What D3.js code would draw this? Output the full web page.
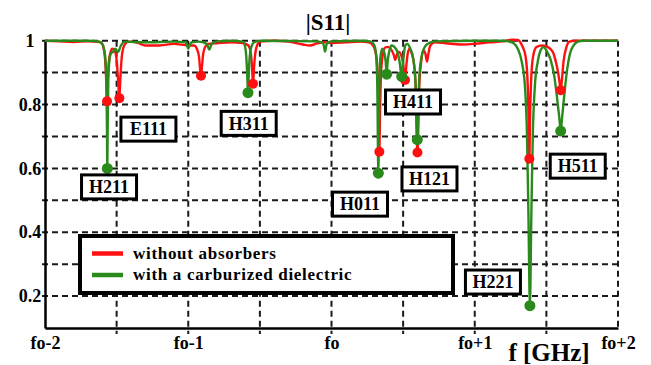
<!DOCTYPE html>
<html><head><meta charset="utf-8">
<script src="https://cdn.jsdelivr.net/npm/d3@7"></script>
<style>
html,body{margin:0;padding:0;background:#fff;}
svg{display:block;}
text{font-family:"Liberation Serif","Times New Roman",serif;font-weight:bold;fill:#000;}
</style></head>
<body>
<svg id="chart" width="651" height="365"></svg>
<script>
// ---- data ----
const xTickValues = [-2, -1, 0, 1, 2];
const xTickLabels = ["fo-2", "fo-1", "fo", "fo+1", "fo+2"];
const xGridValues = [-1.5, -1, -0.5, 0, 0.5, 1, 1.5, 2];
const yTickValues = [1, 0.8, 0.6, 0.4, 0.2];
const yTickLabels = ["1", "0.8", "0.6", "0.4", "0.2"];
const yGridValues = [1, 0.9, 0.8, 0.7, 0.6, 0.5, 0.4, 0.3, 0.2];

const redF = [-2.00,-1.90,-1.80,-1.70,-1.62,-1.60,-1.59,-1.58,-1.573,-1.567,-1.561,-1.555,-1.545,-1.530,-1.510,-1.498,-1.490,-1.481,-1.473,-1.465,-1.455,-1.44,-1.42,-1.35,-1.30,-1.20,-1.10,-1.00,-0.96,-0.94,-0.925,-0.917,-0.911,-0.905,-0.897,-0.885,-0.86,-0.80,-0.70,-0.62,-0.58,-0.565,-0.555,-0.548,-0.541,-0.532,-0.52,-0.50,-0.40,-0.30,-0.20,-0.15,-0.10,-0.05,0.00,0.10,0.20,0.26,0.29,0.31,0.322,0.329,0.334,0.339,0.346,0.36,0.38,0.40,0.42,0.435,0.445,0.455,0.47,0.49,0.502,0.513,0.522,0.532,0.545,0.56,0.575,0.588,0.600,0.612,0.625,0.64,0.655,0.667,0.675,0.69,0.72,0.80,0.90,1.00,1.10,1.20,1.26,1.30,1.33,1.355,1.368,1.376,1.381,1.386,1.394,1.407,1.43,1.47,1.51,1.545,1.568,1.582,1.592,1.600,1.608,1.62,1.64,1.66,1.70,2.00];
const redS = [1.000,0.998,0.996,0.998,0.996,0.990,0.975,0.940,0.880,0.810,0.880,0.930,0.960,0.975,0.965,0.930,0.880,0.820,0.890,0.945,0.975,0.990,0.997,0.993,0.985,0.985,0.990,0.985,0.985,0.975,0.950,0.910,0.890,0.915,0.955,0.978,0.990,0.992,0.995,0.993,0.985,0.965,0.920,0.865,0.915,0.960,0.985,0.997,1.000,0.997,0.988,0.985,0.992,0.995,0.993,0.995,0.997,0.995,0.985,0.960,0.900,0.780,0.652,0.780,0.900,0.960,0.980,0.980,0.970,0.955,0.940,0.955,0.965,0.950,0.920,0.877,0.920,0.960,0.975,0.960,0.930,0.850,0.650,0.850,0.930,0.970,0.960,0.935,0.955,0.985,0.995,0.992,0.988,0.990,0.995,0.998,1.003,1.002,0.985,0.950,0.880,0.760,0.630,0.760,0.880,0.950,0.980,0.985,0.980,0.965,0.930,0.900,0.870,0.845,0.875,0.935,0.980,0.997,1.000,1.000];

const greenF = [-2.00,-1.70,-1.62,-1.595,-1.58,-1.572,-1.568,-1.565,-1.562,-1.558,-1.55,-1.54,-1.525,-1.51,-1.49,-1.47,-1.44,-1.30,-1.10,-1.02,-1.008,-1.000,-0.992,-0.975,-0.93,-0.87,-0.853,-0.836,-0.80,-0.70,-0.62,-0.605,-0.595,-0.589,-0.583,-0.577,-0.571,-0.56,-0.54,-0.50,-0.10,-0.06,-0.052,-0.045,-0.038,-0.03,0.00,0.20,0.27,0.30,0.312,0.320,0.327,0.334,0.342,0.355,0.370,0.378,0.385,0.392,0.405,0.42,0.44,0.46,0.475,0.490,0.500,0.515,0.53,0.55,0.57,0.585,0.599,0.612,0.627,0.645,0.67,0.72,1.00,1.20,1.26,1.30,1.33,1.35,1.365,1.375,1.385,1.395,1.405,1.42,1.44,1.46,1.48,1.50,1.53,1.555,1.575,1.590,1.600,1.610,1.625,1.645,1.665,1.69,1.72,1.76,2.00];
const greenS = [1.000,1.000,0.997,0.985,0.950,0.880,0.750,0.600,0.750,0.880,0.940,0.960,0.965,0.975,0.965,0.985,0.997,0.995,0.997,0.995,0.985,0.975,0.985,0.995,0.997,0.990,0.972,0.990,0.998,1.000,0.997,0.985,0.950,0.900,0.837,0.900,0.950,0.980,0.995,1.000,0.998,0.993,0.982,0.966,0.982,0.993,0.998,1.000,0.998,0.985,0.950,0.850,0.585,0.850,0.950,0.975,0.960,0.935,0.895,0.935,0.970,0.985,0.980,0.965,0.935,0.888,0.935,0.985,0.990,0.975,0.945,0.880,0.690,0.880,0.945,0.975,0.990,0.998,1.000,1.000,0.995,0.975,0.930,0.860,0.700,0.450,0.170,0.450,0.700,0.860,0.935,0.970,0.980,0.970,0.940,0.890,0.820,0.760,0.717,0.760,0.830,0.910,0.960,0.985,0.997,1.000,1.000];

const redMarkF = [-1.567, -1.481, -0.911, -0.548, 0.334, 0.513, 0.600, 1.381, 1.600];
const redMarkS = [0.810, 0.820, 0.890, 0.865, 0.652, 0.877, 0.650, 0.630, 0.845];
const greenMarkF = [-1.565, -0.583, 0.327, 0.385, 0.490, 0.599, 1.385, 1.600];
const greenMarkS = [0.600, 0.837, 0.585, 0.895, 0.888, 0.690, 0.170, 0.717];

const modeLabels = ["E111", "H211", "H311", "H411", "H121", "H011", "H511", "H221"];
const modeLabelF = [-1.278, -1.553, -0.578, 0.569, 0.684, 0.199, 1.719, 1.127];
const modeLabelS = [0.723, 0.542, 0.741, 0.808, 0.567, 0.488, 0.607, 0.244];

const legendLabels = ["without absorbers", "with a carburized dielectric"];
const seriesColors = ["#ff0f0f", "#2a8a1c"];

// ---- drawing ----
const svg = d3.select("#chart");
const x = d3.scaleLinear().domain([-2, 2]).range([45, 618]);
const y = d3.scaleLinear().domain([0.1, 1]).range([328, 40.7]);

// grid
const grid = svg.append("g").attr("stroke", "#1a1a1a").attr("stroke-width", 2).attr("stroke-dasharray", "6,4");
grid.selectAll("line.h").data(yGridValues).join("line")
  .attr("x1", 42).attr("x2", x(2)).attr("y1", d => y(d)).attr("y2", d => y(d));
grid.selectAll("line.v").data(xGridValues).join("line")
  .attr("x1", d => x(d)).attr("x2", d => x(d)).attr("y1", y(1)).attr("y2", d => d === 2 ? y(0.1) : y(0.1) + 6);

// axes
const xAxis = d3.axisBottom(x).tickValues(xTickValues).tickFormat((d, i) => xTickLabels[i]).tickSize(0).tickPadding(8);
const gx = svg.append("g").attr("transform", `translate(0,${y(0.1)})`).call(xAxis);
gx.select(".domain").attr("stroke", "#000").attr("stroke-width", 2.5);
gx.selectAll("text").attr("font-size", 18).attr("font-family", "Liberation Serif, serif").attr("font-weight", "bold").attr("fill", "#000");

const yAxis = d3.axisLeft(y).tickValues(yTickValues).tickFormat((d, i) => yTickLabels[i]).tickSize(0).tickPadding(4);
const gy = svg.append("g").attr("transform", `translate(${x(-2)},0)`).call(yAxis);
gy.select(".domain").attr("stroke", "#000").attr("stroke-width", 2.5);
gy.selectAll("text").attr("font-size", 18).attr("font-family", "Liberation Serif, serif").attr("font-weight", "bold").attr("fill", "#000")
  .attr("text-anchor", "middle").attr("x", -15);

// curves
const line = d3.line().x(d => x(d[0])).y(d => y(d[1])).curve(d3.curveMonotoneX);
const redData = redF.map((f, i) => [f, redS[i]]);
const greenData = greenF.map((f, i) => [f, greenS[i]]);
svg.append("path").datum(redData).attr("d", line).attr("fill", "none").attr("stroke", seriesColors[0]).attr("stroke-width", 2.4).attr("stroke-linejoin", "round");
svg.append("path").datum(greenData).attr("d", line).attr("fill", "none").attr("stroke", seriesColors[1]).attr("stroke-width", 2.4).attr("stroke-linejoin", "round");

svg.append("g").selectAll("circle").data(redMarkF).join("circle")
  .attr("cx", d => x(d)).attr("cy", (d, i) => y(redMarkS[i])).attr("r", 5).attr("fill", seriesColors[0]);
svg.append("g").selectAll("circle").data(greenMarkF).join("circle")
  .attr("cx", d => x(d)).attr("cy", (d, i) => y(greenMarkS[i])).attr("r", 5.5).attr("fill", seriesColors[1]);

// mode labels
const lab = svg.append("g").selectAll("g").data(modeLabels).join("g")
  .attr("transform", (d, i) => `translate(${x(modeLabelF[i])},${y(modeLabelS[i])})`);
lab.append("rect").attr("x", -27.5).attr("y", -12).attr("width", 55).attr("height", 24)
  .attr("fill", "#fff").attr("stroke", "#000").attr("stroke-width", 3);
lab.append("text").text(d => d).attr("text-anchor", "middle").attr("dy", "0.35em").attr("font-size", 18);

// legend
const lg = svg.append("g");
lg.append("rect").attr("x", 80).attr("y", 236).attr("width", 373).attr("height", 57)
  .attr("fill", "#fff").attr("stroke", "#000").attr("stroke-width", 4);
legendLabels.forEach((t, i) => {
  const yy = 253.5 + i * 21.5;
  lg.append("line").attr("x1", 92).attr("x2", 123).attr("y1", yy).attr("y2", yy)
    .attr("stroke", seriesColors[i]).attr("stroke-width", 4.5);
  lg.append("text").attr("x", 133).attr("y", yy + 5).attr("font-size", 17)
    .attr("letter-spacing", 0.7).text(t);
});

// title and axis name
svg.append("text").attr("x", 328).attr("y", 30).attr("text-anchor", "middle").attr("font-size", 23).text("|S11|");
svg.append("text").attr("x", 549).attr("y", 361).attr("text-anchor", "middle").attr("font-size", 25).text("f [GHz]");
</script>
</body></html>
